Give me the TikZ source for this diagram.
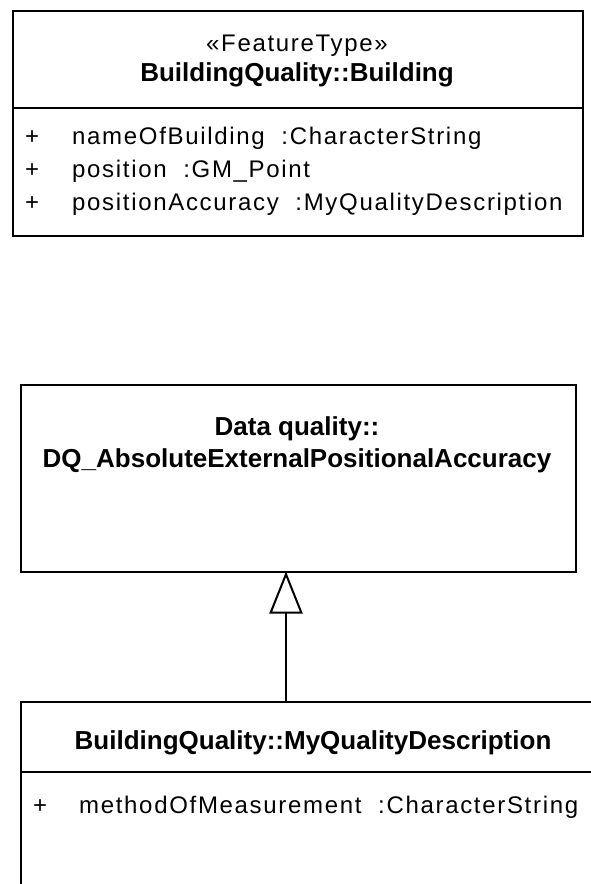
\documentclass[tikz,border=0pt]{standalone}
\usepackage{fontspec}
\setmainfont{Liberation Sans}
\usepackage{tikz}
\usetikzlibrary{arrows.meta}
\usetikzlibrary{calc,positioning}

\begin{document}
\begin{tikzpicture}[x=1pt, y=-1pt, classbox/.style = {draw=black, line width=2pt, inner sep=0pt, anchor=north west}, classname/.style = {align=center, inner sep=0pt, font=\fontsize{26}{32}\selectfont\bfseries}, stereo/.style = {inner sep=0pt, font=\fontsize{24}{29}\selectfont\addfontfeature{LetterSpace=7}}, attr/.style = {anchor=west, inner sep=0pt, font=\fontsize{24}{29}\selectfont\addfontfeature{LetterSpace=7}}, sepline/.style = {line width=2pt}, realize/.style = {line width=2pt, shorten >=-1.5pt, -{Triangle[open, length=42pt, width=33pt, line width=2pt]}}]
			\useasboundingbox (0,0) rectangle (591,884);
			\clip (0,0) rectangle (591,884);
			% BuildingQuality::Building
			\node [classbox, minimum width=570, minimum height=225] (building) at (12,10) {};
			\coordinate (buildingsep) at (0,108);
			\draw [sepline] (building.west |- buildingsep) -- (building.east |- buildingsep);
			\node [stereo] (buildingstereo) at (297,46) {«FeatureType»};
			\node [classname] (buildingname) at (297,75) {BuildingQuality::Building};
			\node [attr] (plusa) at (25,138) {+};
			\node [attr] (attra) at (72,138) {nameOfBuilding\ \ :CharacterString};
			\node [attr] (plusb) at (25,171) {+};
			\node [attr] (attrb) at (72,171) {position\ \ :GM\_Point};
			\node [attr] (plusc) at (25,204) {+};
			\node [attr] (attrc) at (72,204) {positionAccuracy\ \ :MyQualityDescription};
			% Data quality::DQ_AbsoluteExternalPositionalAccuracy
			\node [classbox, minimum width=555, minimum height=187] (accuracy) at (20,384) {};
			\node [classname] (accuracyname) at (297,445) {Data quality::\\DQ\_AbsoluteExternalPositionalAccuracy};
			% BuildingQuality::MyQualityDescription
			\node [classbox, minimum width=586, minimum height=260] (myquality) at (20,701) {};
			\coordinate (myqualitysep) at (0,772);
			\draw [sepline] (myquality.west |- myqualitysep) -- (myquality.east |- myqualitysep);
			\node [classname] (myqualityname) at (313,743) {BuildingQuality::MyQualityDescription};
			\node [attr] (plusd) at (33,807) {+};
			\node [attr] (attrd) at (79,807) {methodOfMeasurement\ \ :CharacterString};
			% generalization
			\coordinate (gen) at (286,0);
			\draw [realize] (myquality.north -| gen) -- (accuracy.south -| gen);
		\end{tikzpicture}
\end{document}
